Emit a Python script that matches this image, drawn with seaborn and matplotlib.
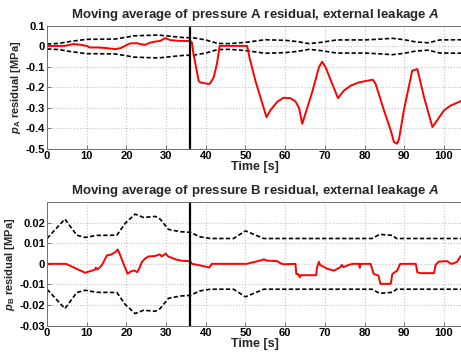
import matplotlib
matplotlib.use("Agg")
import matplotlib.pyplot as plt
import numpy as np
import pandas as pd
import seaborn as sns

# Moving-average residual of pressure A (MPa) over time (s)
t_res_a = [0, 4.5, 6.6, 8.2, 10, 10.8, 12.9, 15, 17.2, 18.5, 20.9, 22.6, 23.5, 24.7,
           26, 27.3, 28.5, 29.8, 31.1, 33.6, 36.1, 36.5, 36.9, 38.2, 38.6, 40.7, 41.1,
           42, 42.8, 43.5, 50.4, 51, 52.5, 55.3, 56.3, 58, 59.6, 61.3, 62.6, 63.5, 64.3,
           66.8, 68.5, 69.3, 70.2, 73.3, 74.8, 76.5, 78.6, 80.7, 82.1, 82.8, 84.9, 86.6,
           87.4, 88.2, 88.7, 89.9, 92, 93.3, 95, 97.1, 98.3, 100, 101.7, 105]
res_a = [0.002, 0.003, 0.012, 0.009, 0.003, -0.005, -0.005, -0.008, -0.013, -0.008,
         0.015, 0.016, 0.012, 0.008, 0.019, 0.024, 0.027, 0.041, 0.031, 0.027, 0.027,
         0.02, -0.037, -0.167, -0.175, -0.183, -0.18, -0.15, -0.085, 0.003, 0.003,
         -0.053, -0.167, -0.345, -0.31, -0.27, -0.25, -0.252, -0.268, -0.3, -0.377,
         -0.223, -0.102, -0.074, -0.102, -0.252, -0.215, -0.191, -0.175, -0.167,
         -0.162, -0.183, -0.312, -0.409, -0.466, -0.474, -0.45, -0.312, -0.118, -0.11,
         -0.248, -0.393, -0.36, -0.312, -0.288, -0.26]

# Adaptive detection threshold for residual A (band is +/- threshold)
t_thr_a = [0, 3, 6, 10, 17, 19, 22, 28, 31, 34, 37, 40, 43, 46, 50, 55, 60, 63, 66, 69,
           73, 80, 84, 87, 90, 93, 96, 99, 105]
thr_a = [0.012, 0.015, 0.025, 0.035, 0.036, 0.042, 0.052, 0.056, 0.05, 0.044, 0.042,
         0.032, 0.015, 0.014, 0.02, 0.033, 0.03, 0.024, 0.014, 0.02, 0.032, 0.032,
         0.036, 0.04, 0.033, 0.022, 0.018, 0.032, 0.033]

# Moving-average residual of pressure B (MPa)
t_res_b = [0, 4.8, 7, 9.6, 11, 12.1, 12.3, 12.7, 13.8, 15.1, 16, 17.2, 17.8, 18.2, 20.3,
           21, 21.9, 22.7, 23.2, 23.9, 24.7, 25.6, 27.2, 28.4, 28.9, 29.9, 30.5, 32.7,
           34, 36.1, 36.5, 38, 40.3, 40.9, 41.5, 50.3, 52, 53.7, 54.6, 55.4, 58, 58.8,
           59.6, 62.6, 62.8, 63.3, 63.7, 63.9, 67.8, 68.0, 68.5, 68.8, 70.6, 72.3, 73.9,
           74.3, 74.7, 75.6, 76.9, 78.6, 78.8, 79, 81.5, 81.9, 82.3, 83.5, 84, 86.6, 87,
           88.2, 89, 92.9, 93.3, 94.1, 97.5, 97.9, 98.7, 100.8, 101.8, 102.5, 103.3,
           104.2, 105]
res_b = [0, 0, -0.002, -0.0043, -0.0035, -0.0028, -0.0018, -0.0028, -0.0007, 0.0041,
         0.0044, 0.0057, 0.007, 0.0053, -0.0048, -0.0038, -0.0032, -0.004, -0.0024,
         0.0009, 0.0026, 0.0036, 0.0038, 0.0046, 0.0036, 0.005, 0.0036, 0.002, 0.0015,
         0.0013, 0.0, -0.0005, -0.0015, -0.0018, 0, 0, 0.0008, 0.0016, 0.0022, 0.0016,
         0.0013, 0.0003, -0.0002, 0, -0.0049, -0.005, -0.0065, -0.0055, -0.0055, -0.002,
         0.001, -0.0005, -0.0024, -0.0033, -0.0016, -0.0005, -0.0016, -0.0008, 0, 0,
         -0.0019, 0, 0, -0.0024, -0.0049, -0.0057, -0.0097, -0.0097, -0.0049, -0.0033,
         0, 0, -0.0041, -0.0045, -0.0045, -0.0005, 0.0011, 0.0013, 0, 0.0003, 0.001,
         0.0037, 0.0045]

# Adaptive detection threshold for residual B
t_thr_b = [0, 4.5, 7.5, 9.6, 12.5, 17.6, 19.7, 22.2, 24.3, 27.3, 28.5, 30.6, 33.6, 36,
           38.6, 41.1, 47, 50, 54.6, 81.9, 83.8, 87.1, 88, 105]
thr_b = [0.0123, 0.0217, 0.0139, 0.0128, 0.0138, 0.0139, 0.0197, 0.0241, 0.0225, 0.023,
         0.0217, 0.0167, 0.0156, 0.0153, 0.0131, 0.0123, 0.0123, 0.016, 0.0123, 0.0123,
         0.0143, 0.0138, 0.0123, 0.0123]

fault_time = 36
x_ticks = [0, 10, 20, 30, 40, 50, 60, 70, 80, 90, 100]
y_ticks_a = [0.1, 0, -0.1, -0.2, -0.3, -0.4, -0.5]
y_tick_labels_a = ["0.1", "0", "-0.1", "-0.2", "-0.3", "-0.4", "-0.5"]
y_ticks_b = [0.02, 0.01, 0, -0.01, -0.02, -0.03]
y_tick_labels_b = ["0.02", "0.01", "0", "-0.01", "-0.02", "-0.03"]

sns.set_style("whitegrid", {"grid.linestyle": ":", "grid.color": "#c4c4c4",
                            "axes.edgecolor": "#707070"})
plt.rcParams["font.family"] = ["Liberation Sans", "DejaVu Sans"]
plt.rcParams["font.weight"] = "bold"
plt.rcParams["mathtext.fontset"] = "custom"
plt.rcParams["mathtext.rm"] = "Liberation Sans:bold"
plt.rcParams["mathtext.bf"] = "Liberation Sans:bold"
plt.rcParams["mathtext.it"] = "Liberation Sans:italic:bold"
plt.rcParams["mathtext.bfit"] = "Liberation Sans:italic:bold"

fig = plt.figure(figsize=(4.61, 3.55), dpi=100)
ax1 = fig.add_axes([0.102, 0.5803, 0.904, 0.3465])
ax2 = fig.add_axes([0.102, 0.0825, 0.904, 0.3485])

dash = (0, (2.6, 1.4))


def draw_panel(ax, t_res, res, t_thr, thr, ylim, yticks, ylabels, title, ylabel):
    df_res = pd.DataFrame({"t": t_res, "r": res})
    df_thr = pd.DataFrame({"t": t_thr, "up": thr, "lo": -np.asarray(thr)})
    sns.lineplot(data=df_thr, x="t", y="up", ax=ax, color="black", lw=1.2, linestyle=dash)
    sns.lineplot(data=df_thr, x="t", y="lo", ax=ax, color="black", lw=1.2, linestyle=dash)
    sns.lineplot(data=df_res, x="t", y="r", ax=ax, color="#ff0000", lw=1.4)
    ax.axvline(fault_time, color="black", lw=1.6)
    ax.set_xlim(0, 105)
    ax.set_ylim(*ylim)
    ax.set_xticks(x_ticks)
    ax.set_xticklabels([str(v) for v in x_ticks])
    ax.set_yticks(yticks)
    ax.set_yticklabels(ylabels)
    ax.tick_params(axis="both", labelsize=8, pad=1.5, direction="in", length=3,
                   width=0.6, bottom=True, left=True, colors="#606060",
                   labelcolor="black")
    for lab in ax.get_xticklabels() + ax.get_yticklabels():
        lab.set_fontweight("bold")
    ax.set_xlabel("Time [s]", fontsize=9, fontweight="bold", labelpad=0)
    ax.set_ylabel(ylabel, fontsize=8, fontweight="bold", labelpad=2)
    ax.set_title(title, fontsize=9.5, fontweight="bold", pad=6)
    for side in ("left", "bottom", "top", "right"):
        ax.spines[side].set_linewidth(0.7)


draw_panel(ax1, t_res_a, res_a, t_thr_a, thr_a, (-0.5, 0.1), y_ticks_a, y_tick_labels_a,
           r"Moving average of pressure A residual, external leakage $\mathbfit{A}$",
           r"$\mathbfit{p}_{\mathbf{A}}$ residual [MPa]")
draw_panel(ax2, t_res_b, res_b, t_thr_b, thr_b, (-0.03, 0.03), y_ticks_b, y_tick_labels_b,
           r"Moving average of pressure B residual, external leakage $\mathbfit{A}$",
           r"$\mathbfit{p}_{\mathbf{B}}$ residual [MPa]")

fig.savefig("out.png", dpi=100)
